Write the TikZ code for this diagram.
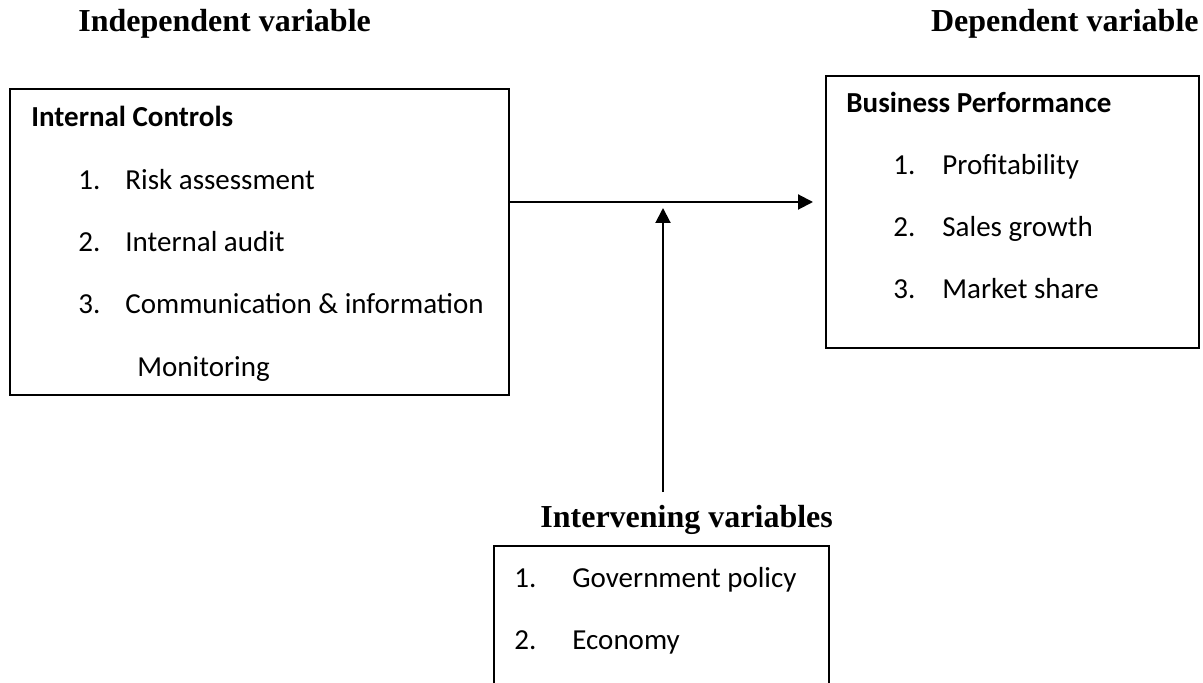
\documentclass[tikz,border=0pt]{standalone}
\usepackage{fontspec}
\setmainfont{Liberation Serif}
\newfontfamily\bodyfont{Carlito}
\usetikzlibrary{arrows.meta}
\usetikzlibrary{calc}
\usetikzlibrary{positioning}

\begin{document}
\begin{tikzpicture}[
    x=0.5pt, y=-0.5pt,
    arrowtip/.style={
      -{Triangle[length=7.5pt,width=7.5pt]}, line width=1pt
    },
    box/.style={draw, line width=1pt, anchor=north west, inner sep=0pt},
    title/.style={font=\bfseries\fontsize{16pt}{19pt}\selectfont, inner sep=0pt},
    head/.style={font=\bodyfont\bfseries\fontsize{14.5pt}{17pt}\selectfont,
      anchor=base west, inner sep=0pt},
    item/.style={font=\bodyfont\fontsize{14.5pt}{17pt}\selectfont,
      anchor=base west, inner sep=0pt}
  ]
    \useasboundingbox (0,0) rectangle (1203,683);

    \coordinate (IC) at (  9, 88);
    \coordinate (BP) at (825, 75);
    \coordinate (IV) at (493,545);

    \node[title, anchor=base west] (IVT) at ( 78, 32) {Independent variable};
    \node[title, anchor=base east] (DVT) at (1199,32) {Dependent variable};
    \node[title, anchor=base west] (NVT) at (540,527) {Intervening variables};

    \node[box, minimum width=249.5pt, minimum height=153pt] (ICB) at (IC) {};
    \node[head] (ICH) at ( 31,127) {Internal Controls};
    \node[item] (ICN1) at ( 78,190) {1.};
    \node[item] (ICT1) at (125,190) {Risk assessment};
    \node[item] (ICN2) at ( 78,252) {2.};
    \node[item] (ICT2) at (125,252) {Internal audit};
    \node[item] (ICN3) at ( 78,314) {3.};
    \node[item] (ICT3) at (125,314) {Communication \& information};
    \node[item] (ICT4) at (137,377) {Monitoring};

    \node[box, minimum width=186.5pt, minimum height=136pt] (BPB) at (BP) {};
    \node[head] (BPH) at (846,113) {Business Performance};
    \node[item] (BPN1) at (893,175) {1.};
    \node[item] (BPT1) at (942,175) {Profitability};
    \node[item] (BPN2) at (893,237) {2.};
    \node[item] (BPT2) at (942,237) {Sales growth};
    \node[item] (BPN3) at (893,299) {3.};
    \node[item] (BPT3) at (942,299) {Market share};

    \node[box, minimum width=167.5pt, minimum height=100pt] (IVB) at (IV) {};
    \node[item] (IVN1) at (514,587) {1.};
    \node[item] (IVT1) at (572,587) {Government policy};
    \node[item] (IVN2) at (514,649) {2.};
    \node[item] (IVT2) at (572,649) {Economy};

    \coordinate (HE) at (813,202);
    \coordinate (VB) at (663,492);
    \coordinate (VE) at (663,208);

    \draw[arrowtip] (ICB.east |- HE) -- (HE);
    \draw[arrowtip] (VB) -- (VE);
  \end{tikzpicture}
\end{document}
